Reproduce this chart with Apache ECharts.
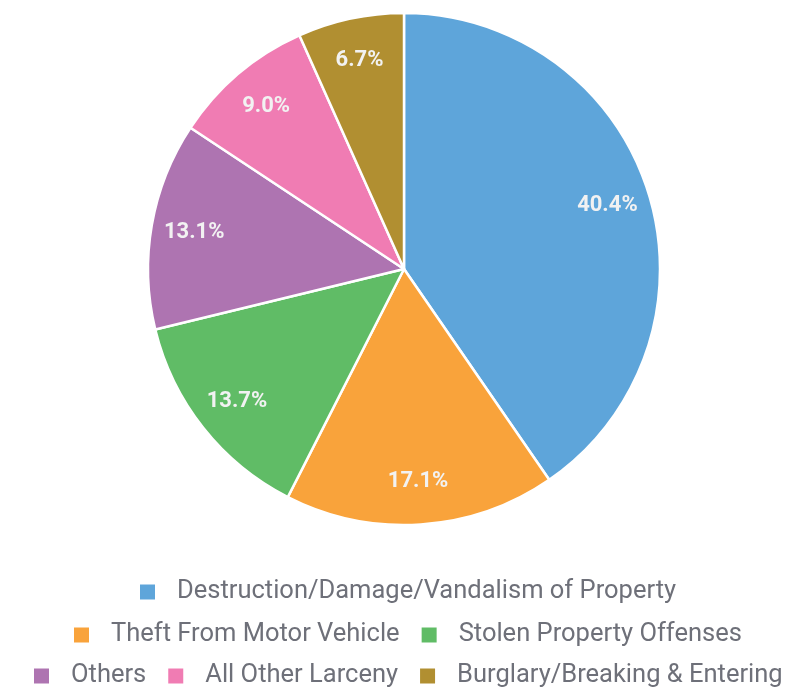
<!DOCTYPE html>
<html>
<head>
<meta charset="utf-8">
<script src="https://cdn.jsdelivr.net/npm/echarts@6/dist/echarts.min.js"></script>
<style>
  html, body { margin: 0; padding: 0; background: #fff; }
  #chart { width: 802px; height: 688px; }
</style>
</head>
<body>
<div id="chart"></div>
<script>
var categories = [
  'Destruction/Damage/Vandalism of Property',
  'Theft From Motor Vehicle',
  'Stolen Property Offenses',
  'Others',
  'All Other Larceny',
  'Burglary/Breaking & Entering'
];
var values = [40.4, 17.1, 13.7, 13.1, 9.0, 6.7];
var colors = ['#5ea5da', '#f9a33b', '#60bc66', '#ae74b1', '#f07cb3', '#b18f31'];
// legend rows, as in the picture
var legendRows = [[0], [1, 2], [3, 4, 5]];

var chart = echarts.init(document.getElementById('chart'));

var pieData = categories.map(function (name, i) {
  return { name: name, value: values[i] };
});

var legendFont = '25.5px Roboto';
var iconSize = 15, textPad = 17, itemGap = 22;
var ctx = document.createElement('canvas').getContext('2d');
ctx.font = legendFont;

// width of one legend row, to centre it a bit right of the middle like the picture
function rowWidth(row) {
  var w = 0;
  row.forEach(function (i, k) {
    w += iconSize + 5 + textPad + ctx.measureText(categories[i]).width;
    if (k > 0) w += itemGap;
  });
  return w;
}

var legendTops = [579, 622, 663];
var legends = legendRows.map(function (row, r) {
  return {
    left: Math.round((802 - rowWidth(row)) / 2 + 7),
    top: legendTops[r],
    padding: 0,
    icon: 'rect',
    itemWidth: iconSize,
    itemHeight: iconSize,
    itemGap: itemGap,
    selectedMode: false,
    itemStyle: { borderWidth: 0 },
    textStyle: {
      fontFamily: 'Roboto',
      fontSize: 25.5,
      color: '#6e7079',
      padding: [0, 0, 0, textPad]
    },
    data: row.map(function (i) { return categories[i]; })
  };
});

var option = {
  color: colors,
  animation: false,
  legend: legends,
  series: [{
    name: 'pie',
    type: 'pie',
    center: [404, 269],
    radius: [0, 256],
    startAngle: 90,
    clockwise: true,
    label: { show: false },
    labelLine: { show: false },
    itemStyle: { borderColor: '#fff', borderWidth: 2.5 },
    emphasis: { disabled: true },
    data: pieData
  }, {
    // label layer only, so that labels sit near the rim
    name: 'labels',
    type: 'pie',
    center: [404, 269],
    radius: [164, 256],
    startAngle: 90,
    clockwise: true,
    silent: true,
    legendHoverLink: false,
    itemStyle: { color: 'rgba(0,0,0,0)' },
    label: {
      show: true,
      position: 'inside',
      formatter: function (p) { return p.value.toFixed(1) + '%'; },
      fontFamily: 'Roboto',
      fontWeight: 'bold',
      fontSize: 22,
      color: '#f2f2f2'
    },
    labelLine: { show: false },
    emphasis: { disabled: true },
    data: pieData
  }]
};

chart.setOption(option);
</script>
</body>
</html>
